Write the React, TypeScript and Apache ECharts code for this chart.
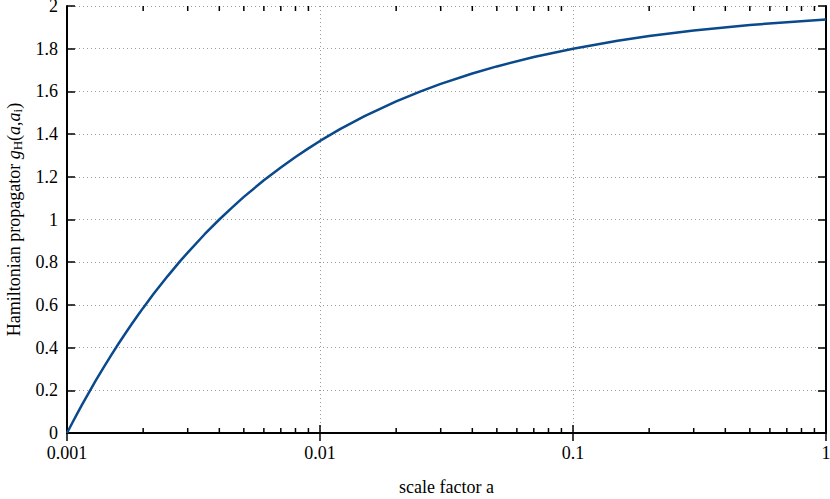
import React, { useEffect, useRef } from "react";
import * as echarts from "echarts";

// Values
const scaleFactor = [0.001, 0.00105, 0.0011, 0.00115, 0.0012, 0.0013, 0.0014, 0.0015, 0.0016, 0.0017, 0.0018, 0.0019, 0.002, 0.0022, 0.0025, 0.0028, 0.003, 0.0035, 0.004, 0.0045, 0.005, 0.006, 0.007, 0.008, 0.009, 0.01, 0.012, 0.015, 0.02, 0.025, 0.03, 0.04, 0.05, 0.07, 0.1, 0.15, 0.2, 0.3, 0.5, 0.7, 1];
const propagator = [0, 0.048, 0.093, 0.135, 0.174, 0.246, 0.31, 0.367, 0.419, 0.466, 0.509, 0.549, 0.586, 0.652, 0.735, 0.805, 0.845, 0.931, 1.0, 1.057, 1.106, 1.184, 1.244, 1.293, 1.333, 1.368, 1.423, 1.484, 1.553, 1.6, 1.635, 1.684, 1.717, 1.761, 1.8, 1.837, 1.859, 1.885, 1.911, 1.924, 1.937];

// Minor tick positions on the logarithmic axis
const minorTicks = [
  0.002, 0.003, 0.004, 0.005, 0.006, 0.007, 0.008, 0.009,
  0.02, 0.03, 0.04, 0.05, 0.06, 0.07, 0.08, 0.09,
  0.2, 0.3, 0.4, 0.5, 0.6, 0.7, 0.8, 0.9,
];

const FONT = "Liberation Serif";

export default function App() {
  const ref = useRef<HTMLDivElement>(null);
  useEffect(() => {
    document.body.style.margin = "0";
    const chart = echarts.init(ref.current!, null, { renderer: "svg" });
    const grid = { left: 67, right: 4, top: 6, bottom: 66, containLabel: false, outerBoundsMode: "none" };
    const tickStyle = { color: "#000", width: 1.5 };
    const split = { show: true, lineStyle: { color: "#999", type: [1, 3] as any, width: 1 } };
    chart.setOption({
      animation: false,
      backgroundColor: "#fff",
      grid,
      xAxis: [
        {
          type: "log",
          logBase: 10,
          min: 0.001,
          max: 1,
          position: "bottom",
          axisLine: { show: true, lineStyle: { color: "#000", width: 2 } },
          axisTick: { show: true, inside: true, length: 8, lineStyle: tickStyle },
          axisLabel: { color: "#000", fontFamily: FONT, fontSize: 18, margin: 11 },
          splitLine: split,
          name: "scale factor a",
          nameLocation: "middle",
          nameGap: 45,
          nameTextStyle: { color: "#000", fontFamily: FONT, fontSize: 18 },
        },
        {
          type: "log",
          logBase: 10,
          min: 0.001,
          max: 1,
          position: "top",
          axisLine: { show: true, lineStyle: { color: "#000", width: 2 } },
          axisTick: { show: true, inside: true, length: 8, lineStyle: tickStyle },
          axisLabel: { show: false },
          splitLine: { show: false },
        },
      ],
      yAxis: [
        {
          type: "value",
          min: 0,
          max: 2,
          interval: 0.2,
          position: "left",
          axisLine: { show: true, lineStyle: { color: "#000", width: 2 } },
          axisTick: { show: true, inside: true, length: 8, lineStyle: tickStyle },
          axisLabel: { color: "#000", fontFamily: FONT, fontSize: 18, margin: 9 },
          splitLine: split,
          name: "Hamiltonian propagator {i|g}{sub|H}({i|a},{i|a}{sub|i})",
          nameLocation: "middle",
          nameRotate: 90,
          nameGap: 43,
          nameTextStyle: {
            color: "#000",
            fontFamily: FONT,
            fontSize: 18,
            rich: {
              i: { fontFamily: FONT, fontSize: 18, fontStyle: "italic", color: "#000" },
              sub: { fontFamily: FONT, fontSize: 13, color: "#000", verticalAlign: "bottom", padding: [8, 0, 0, 0] },
            },
          },
        },
        {
          type: "value",
          min: 0,
          max: 2,
          interval: 0.2,
          position: "right",
          axisLine: { show: true, lineStyle: { color: "#000", width: 2 } },
          axisTick: { show: true, inside: true, length: 8, lineStyle: tickStyle },
          axisLabel: { show: false },
          splitLine: { show: false },
        },
      ],
      series: [
        {
          type: "line",
          xAxisIndex: 0,
          yAxisIndex: 0,
          data: scaleFactor.map((a, i) => [a, propagator[i]]),
          showSymbol: false,
          smooth: false,
          lineStyle: { color: "#0a4a8c", width: 2.5 },
          z: 5,
        },
        {
          type: "custom",
          xAxisIndex: 0,
          yAxisIndex: 0,
          data: minorTicks.map((v) => [v]),
          silent: true,
          clip: false,
          renderItem: (params: any, api: any) => {
            const v = api.value(0);
            const b = api.coord([v, 0]);
            const t = api.coord([v, 2]);
            return {
              type: "group",
              children: [
                { type: "line", shape: { x1: b[0], y1: b[1], x2: b[0], y2: b[1] - 5 }, style: { stroke: "#000", lineWidth: 1.5 } },
                { type: "line", shape: { x1: t[0], y1: t[1], x2: t[0], y2: t[1] + 5 }, style: { stroke: "#000", lineWidth: 1.5 } },
              ],
            };
          },
          z: 6,
        },
      ],
    });
    return () => chart.dispose();
  }, []);
  return <div ref={ref} style={{ width: 830, height: 499 }} />;
}
